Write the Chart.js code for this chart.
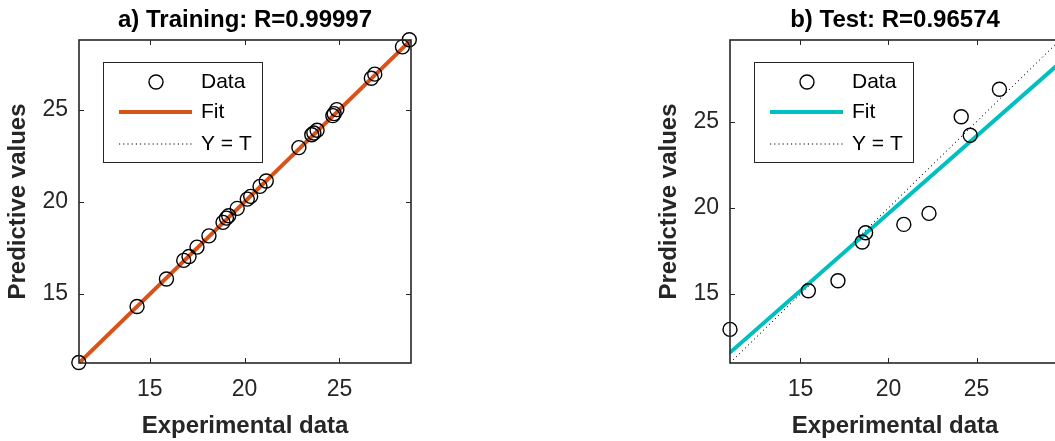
<!DOCTYPE html>
<html>
<head>
<meta charset="utf-8">
<script src="https://cdn.jsdelivr.net/npm/chart.js@4.4.1/dist/chart.umd.min.js"></script>
<style>
  html, body { margin: 0; padding: 0; background: #fff; overflow: hidden; }
  #wrap { position: relative; width: 1055px; height: 441px; overflow: hidden; }
  #trainChart { position: absolute; left: 0; top: 0; }
  #testChart { position: absolute; left: 530px; top: 0; }
</style>
</head>
<body>
<div id="wrap">
  <canvas id="trainChart" width="530" height="441"></canvas>
  <canvas id="testChart" width="560" height="441"></canvas>
</div>
<script>
// ---- values ----
const trainExp  = [11.26, 14.33, 15.88, 16.79, 17.07, 17.49, 18.12, 18.86, 19.04, 19.16, 19.61, 20.14, 20.32,
                   20.81, 21.14, 22.86, 23.54, 23.65, 23.82, 24.65, 24.72, 24.86, 26.68, 26.86, 28.32, 28.68];
const trainPred = [11.30, 14.33, 15.82, 16.83, 17.04, 17.55, 18.16, 18.89, 19.12, 19.25, 19.65, 20.15, 20.30,
                   20.84, 21.13, 22.94, 23.64, 23.73, 23.88, 24.67, 24.78, 25.00, 26.70, 26.92, 28.40, 28.78];
const testExp   = [11.00, 15.45, 17.13, 18.51, 18.70, 20.87, 22.30, 24.13, 24.64, 26.30];
const testPred  = [12.95, 15.19, 15.77, 18.02, 18.56, 19.04, 19.68, 25.29, 24.21, 26.88];

const trainFit = [1.0, 0.0];      // slope, intercept
const testFit  = [0.897, 1.74];
const trainLimits = [11.27, 28.77];
const testLimits  = [11.0, 29.74];
const tickValues = [15, 20, 25];

Chart.defaults.font.family = '"Liberation Sans", Arial, sans-serif';

// frame, inward ticks and a matlab-like legend box
const axesBox = {
    id: 'axesBox',
    afterDraw(chart) {
        const { ctx, chartArea: a, scales: { x, y } } = chart;
        ctx.save();
        ctx.strokeStyle = '#262626';
        ctx.lineWidth = 1;
        ctx.beginPath();
        x.ticks.forEach(t => {
            const p = Math.round(x.getPixelForValue(t.value)) + 0.5;
            ctx.moveTo(p, a.bottom); ctx.lineTo(p, a.bottom - 5);
            ctx.moveTo(p, a.top); ctx.lineTo(p, a.top + 5);
        });
        y.ticks.forEach(t => {
            const p = Math.round(y.getPixelForValue(t.value)) + 0.5;
            ctx.moveTo(a.left, p); ctx.lineTo(a.left + 5, p);
            ctx.moveTo(a.right, p); ctx.lineTo(a.right - 5, p);
        });
        ctx.stroke();
        ctx.lineWidth = 1.6;
        ctx.strokeRect(a.left, a.top, a.right - a.left, a.bottom - a.top);

        // legend
        const ds = chart.data.datasets;
        const bx = a.left + 24, by = a.top + 22, bw = 159, bh = 100;
        ctx.fillStyle = '#fff';
        ctx.fillRect(bx, by, bw, bh);
        ctx.lineWidth = 1;
        ctx.strokeStyle = '#262626';
        ctx.strokeRect(bx + 0.5, by + 0.5, bw, bh);
        const rows = [by + 20, by + 50, by + 82];
        const x0 = bx + 16, x1 = bx + 89;

        ctx.strokeStyle = '#000';
        ctx.lineWidth = ds[0].pointBorderWidth;
        ctx.beginPath();
        ctx.arc(bx + 53, rows[0], ds[0].pointRadius, 0, Math.PI * 2);
        ctx.stroke();

        ctx.strokeStyle = ds[1].borderColor;
        ctx.lineWidth = ds[1].borderWidth;
        ctx.beginPath(); ctx.moveTo(x0, rows[1]); ctx.lineTo(x1, rows[1]); ctx.stroke();

        ctx.strokeStyle = ds[2].borderColor;
        ctx.lineWidth = ds[2].borderWidth;
        ctx.setLineDash(ds[2].borderDash);
        ctx.beginPath(); ctx.moveTo(x0, rows[2]); ctx.lineTo(x1, rows[2]); ctx.stroke();
        ctx.setLineDash([]);

        ctx.fillStyle = '#000';
        ctx.font = '21px "Liberation Sans", Arial, sans-serif';
        ctx.textBaseline = 'middle';
        ctx.textAlign = 'left';
        ds.forEach((d, i) => ctx.fillText(d.label, bx + 98, rows[i]));
        ctx.restore();
    }
};

function makeAxis(limits, title, isX) {
    return {
        type: 'linear',
        min: limits[0],
        max: limits[1],
        grid: { display: false, drawTicks: false },
        border: { display: false },
        afterBuildTicks: s => { s.ticks = tickValues.map(v => ({ value: v })); },
        afterFit: s => { if (isX) s.height = 78; else s.width = 79; },
        ticks: { color: '#262626', font: { size: 23 }, padding: isX ? 13 : 11 },
        title: {
            display: true,
            text: title,
            color: '#262626',
            font: { size: 24, weight: 'bold' },
            padding: isX ? { top: 0, bottom: 0 } : { top: 4, bottom: 0 }
        }
    };
}

function makeChart(id, titleText, expVals, predVals, fit, limits, fitColor, padding) {
    const points = expVals.map((v, i) => ({ x: v, y: predVals[i] }));
    const fitLine = limits.map(v => ({ x: v, y: fit[0] * v + fit[1] }));
    const ytLine = limits.map(v => ({ x: v, y: v }));

    return new Chart(document.getElementById(id), {
        type: 'scatter',
        data: {
            datasets: [
                {
                    label: 'Data',
                    data: points,
                    showLine: false,
                    pointRadius: 7,
                    pointBorderWidth: 1.4,
                    pointBorderColor: '#000',
                    pointBackgroundColor: 'rgba(0,0,0,0)',
                    clip: false
                },
                {
                    label: 'Fit',
                    data: fitLine,
                    showLine: true,
                    borderColor: fitColor,
                    borderWidth: 4,
                    pointRadius: 0,
                    clip: 0
                },
                {
                    label: 'Y = T',
                    data: ytLine,
                    showLine: true,
                    borderColor: '#000',
                    borderWidth: 1,
                    borderDash: [1.2, 3],
                    pointRadius: 0,
                    clip: 0
                }
            ]
        },
        options: {
            responsive: false,
            animation: false,
            events: [],
            layout: { padding: padding },
            scales: {
                x: makeAxis(limits, 'Experimental data', true),
                y: makeAxis(limits, 'Predictive values', false)
            },
            plugins: {
                legend: { display: false },
                tooltip: { enabled: false },
                title: {
                    display: true,
                    text: titleText,
                    fullSize: false,
                    color: '#000',
                    font: { size: 24, weight: 'bold' },
                    padding: { top: 6, bottom: 5.2 }
                }
            }
        },
        plugins: [axesBox]
    });
}

makeChart('trainChart', 'a) Training: R=0.99997', trainExp, trainPred, trainFit, trainLimits, '#D95319',
    { left: 0, right: 119, top: 0, bottom: 0 });
makeChart('testChart', 'b) Test: R=0.96574', testExp, testPred, testFit, testLimits, '#00BFBF',
    { left: 121, right: 30, top: 0, bottom: 0 });
</script>
</body>
</html>
